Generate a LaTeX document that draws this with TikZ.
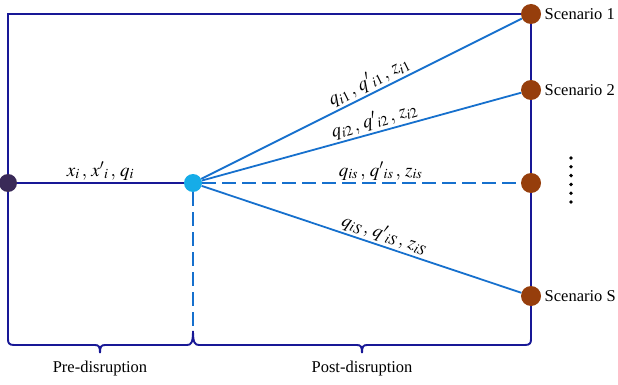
\documentclass[tikz,border=0pt]{standalone}
\usepackage{mathptmx}
\usepackage[no-math]{fontspec}
\setmainfont{Liberation Serif}
\usepackage{xcolor}
\usetikzlibrary{positioning, backgrounds}

\definecolor{framenavy}{RGB}{24,24,150}
\definecolor{flowblue}{RGB}{22,112,205}
\definecolor{hubcyan}{RGB}{22,172,232}
\definecolor{startpurple}{RGB}{58,42,88}
\definecolor{scenbrown}{RGB}{150,62,12}

\tikzset{
  frame/.style={draw=framenavy, line width=1.9pt},
  flow/.style={draw=flowblue, line width=1.8pt},
  dot/.style={circle, inner sep=0pt, minimum size=18pt},
  scendot/.style={dot, fill=scenbrown, minimum size=20pt},
  lbl/.style={font=\fontsize{19}{21}\selectfont, sloped, above, inner sep=2pt}
}

\begin{document}
\begin{tikzpicture}[x=1pt, y=-1pt, every node/.style={font=\fontsize{16.5}{18}\selectfont}]
  \useasboundingbox (0,0) rectangle (618,385);
  % ---------- NODES ----------
  \node[dot, fill=startpurple] (x0) at (8,183) {};
  \node[dot, fill=hubcyan] (hub) at (193,183) {};
  \node[scendot] (s1) at (531,14) {};
  \node[scendot] (s2) at (531,90) {};
  \node[scendot] (ss) at (531,183) {};
  \node[scendot] (sS) at (531,296) {};
  \coordinate (tl) at (8,14);
  \coordinate (cusp) at (193,331);
  \node[right=0pt of s1] (n1) {Scenario 1};
  \node[right=0pt of s2] (n2) {Scenario 2};
  \node[right=0pt of sS] (nS) {Scenario S};
  \foreach \k in {0,...,5} \fill (571,158+8.8*\k) circle (1.9);
  % ---------- FRAME & BRACES ----------
  \begin{scope}[on background layer]
    \draw[frame] (s1.center) -- (tl) -- (8,339)
      .. controls (8,343) and (9,345) .. (14,345) -- (95,345)
      .. controls (99,345) and (100,347) .. (100,353)
      .. controls (100,347) and (101,345) .. (105,345) -- (187,345)
      .. controls (191,345) and (193,343) .. (cusp)
      .. controls (193,343) and (195,345) .. (199,345) -- (357,345)
      .. controls (361,345) and (362,347) .. (362,353)
      .. controls (362,347) and (363,345) .. (367,345) -- (525,345)
      .. controls (530,345) and (531,343) .. (531,339) -- (s1.center);
  \end{scope}
  % ---------- FLOWS ----------
  \draw[frame] (x0) -- node[lbl, sloped=false] {$x_i\,,\,x'{}_i\,,\,q_i$} (hub);
  \draw[flow] (hub) -- node[lbl, pos=0.54] {$q_{i1}\,,\,q'{}_{i1}\,,\,z_{i1}$} (s1);
  \draw[flow] (hub) -- node[lbl, pos=0.55] {$q_{i2}\,,\,q'{}_{i2}\,,\,z_{i2}$} (s2);
  \draw[flow, dash pattern=on 14pt off 6pt] (hub) -- node[lbl, pos=0.56] {$q_{is}\,,\,q'{}_{is}\,,\,z_{is}$} (ss);
  \draw[flow] (hub) -- node[lbl, pos=0.56] {$q_{iS}\,,\,q'{}_{iS}\,,\,z_{iS}$} (sS);
  \draw[flow, dash pattern=on 14pt off 6pt] (hub) -- (cusp);
  % ---------- PERIODS ----------
  \node (pre) at (100,369) {Pre-disruption};
  \node (post) at (362,369) {Post-disruption};
\end{tikzpicture}
\end{document}
